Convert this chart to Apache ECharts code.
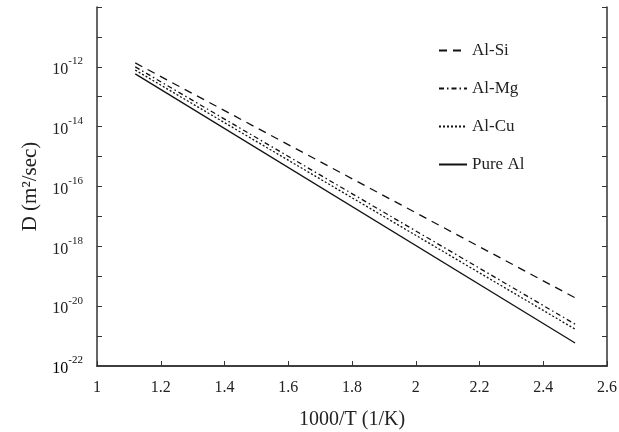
<!DOCTYPE html>
<html><head><meta charset="utf-8">
<script src="https://cdn.jsdelivr.net/npm/echarts@6/dist/echarts.min.js"></script>
<style>html,body{margin:0;padding:0;background:#fff}#c{width:619px;height:432px}</style>
</head><body><div id="c"></div>
<script>
const xValues = [1.12, 2.5];
const seriesNames = ['Al-Si', 'Al-Mg', 'Al-Cu', 'Pure Al'];
const alSi = [1.35e-12, 1.9e-20];
const alMg = [1.0e-12, 2.5e-21];
const alCu = [7.8e-13, 1.7e-21];
const pureAl = [5.8e-13, 5.9e-22];
const xTicks = [1, 1.2, 1.4, 1.6, 1.8, 2, 2.2, 2.4, 2.6];
const yMinExp = -22;
const yMaxExp = -10;

const font = 'Liberation Serif';
const ink = '#222';
const chart = echarts.init(document.getElementById('c'));
function pts(arr){ return xValues.map((x,i)=>[x, arr[i]]); }
const styles = [
  {type:[8,6], width:1.3},
  {type:[5,3,1.5,3], width:1.3},
  {type:[2,2], width:1.3},
  {type:'solid', width:1.3}
];
const data = [alSi, alMg, alCu, pureAl];
const labelRich = {
  b:{fontFamily:font, fontSize:16, color:ink, lineHeight:22, verticalAlign:'bottom'},
  s:{fontFamily:font, fontSize:11, color:ink, lineHeight:22, verticalAlign:'top'}
};
chart.setOption({
  animation:false,
  grid:{left:97, right:12, top:7, bottom:66, containLabel:false, outerBoundsMode:'none'},
  legend:{
    orient:'vertical', left:433, top:37, itemWidth:28, itemHeight:12, itemGap:21,
    itemStyle:{opacity:0},
    textStyle:{fontFamily:font, fontSize:17, color:ink},
    data:seriesNames
  },
  xAxis:[{
    type:'value', min:1, max:2.6, interval:0.2,
    name:'1000/T (1/K)', nameLocation:'middle', nameGap:44, nameMoveOverlap:false,
    nameTextStyle:{fontFamily:font, fontSize:20, color:ink},
    axisLine:{lineStyle:{color:'#333', width:1.5}},
    axisTick:{inside:true, length:5, lineStyle:{color:'#333'}},
    axisLabel:{fontFamily:font, fontSize:16, color:ink, margin:14, showMinLabel:true, showMaxLabel:true,
      formatter:v=>{const r=Math.round(v*10)/10; return xTicks.includes(r)? String(r):'';}},
    splitLine:{show:false}
  },{
    type:'value', min:1, max:2.6, position:'top',
    axisLine:{show:true, lineStyle:{color:'#333', width:1.5}},
    axisTick:{show:false}, axisLabel:{show:false}, splitLine:{show:false}
  }],
  yAxis:[{
    type:'log', logBase:10, min:Math.pow(10,yMinExp), max:Math.pow(10,yMaxExp), interval:1,
    name:'D (m²/sec)', nameLocation:'middle', nameGap:56, nameMoveOverlap:false,
    nameTextStyle:{fontFamily:font, fontSize:21, color:ink},
    axisLine:{lineStyle:{color:'#333', width:1.5}},
    axisTick:{inside:true, length:5, lineStyle:{color:'#333'}},
    axisLabel:{margin:14, showMinLabel:true, hideOverlap:false, formatter:v=>{
      if (!(v > 0)) return '';
      const e = Math.round(Math.log10(v));
      if (e%2!==0 || e>-12) return '';
      return '{b|10}{s|'+e+'}';
    }, rich:labelRich},
    splitLine:{show:false}
  },{
    type:'log', logBase:10, min:Math.pow(10,yMinExp), max:Math.pow(10,yMaxExp), interval:1, position:'right',
    axisLine:{show:true, lineStyle:{color:'#333', width:1.5}},
    axisTick:{show:true, inside:true, length:5, lineStyle:{color:'#333'}},
    axisLabel:{show:false}, splitLine:{show:false}
  }],
  series: seriesNames.map((n,i)=>({
    name:n, type:'line', showSymbol:false, symbol:'none',
    data:pts(data[i]),
    lineStyle:{color:'#111', width:styles[i].width, type:styles[i].type},
    itemStyle:{color:'#111'}
  }))
});
// The log scale rounds its lowest tick to 0, so its label is placed here through the axis scales.
const minY = chart.convertToPixel({yAxisIndex:0}, Math.pow(10, yMinExp));
const minX = chart.convertToPixel({xAxisIndex:0}, xTicks[0]);
if (isFinite(minY) && isFinite(minX)) {
  chart.setOption({graphic:[{
    type:'text', x:minX - 14, y:minY,
    style:{text:'{b|10}{s|'+yMinExp+'}', rich:labelRich, align:'right', verticalAlign:'middle'}
  }]});
}
</script></body></html>
